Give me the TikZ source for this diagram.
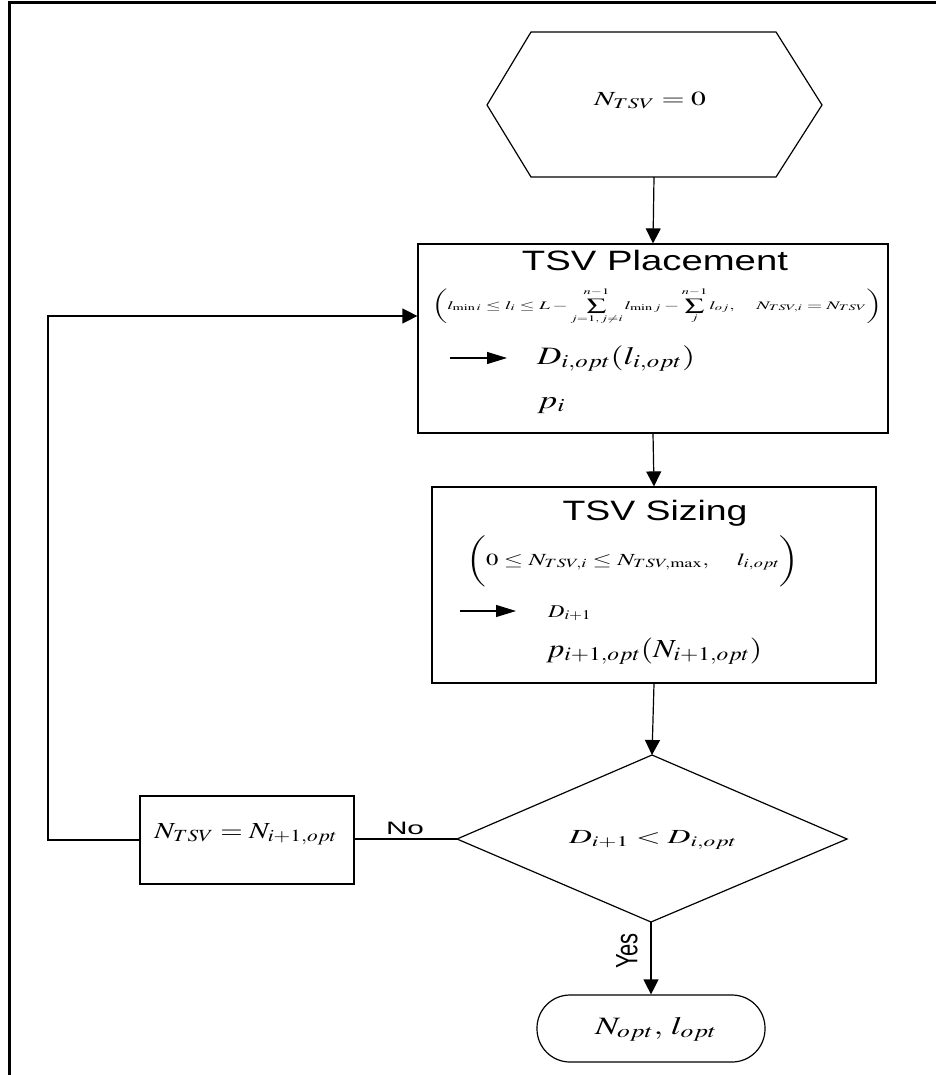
\documentclass[tikz,border=0pt]{standalone}
\usepackage{mathptmx}
\usepackage[no-math]{fontspec}
\setmainfont{Liberation Serif}
\setsansfont{Liberation Sans}
\usepackage{graphicx}
\usetikzlibrary{arrows.meta}
\newcommand{\fitw}[3]{\resizebox{#1}{\height}{\fontsize{#2}{#2}\selectfont #3}}
\newcommand{\uplim}{\raisebox{2pt}{$\scriptstyle n-1$}}
\tikzset{
  box/.style={draw, line width=1.2pt, inner sep=0pt},
  ln/.style={line width=1.2pt},
  arr/.style={line width=1.2pt, -{Triangle[width=15pt,length=15pt]}},
  iarr/.style={line width=1.2pt, -{Triangle[width=12pt,length=20pt]}},
  lbl/.style={inner sep=0pt}
}
\begin{document}
\begin{tikzpicture}[x=1pt,y=-1pt]
\useasboundingbox (0,0) rectangle (936,1075);
\fill[white] (0,0) rectangle (936,1075);
\draw[line width=3pt] (9,1075) -- (9,3) -- (936,3);

% start hexagon
\coordinate (h1) at (531,32);
\coordinate (h2) at (776,32);
\coordinate (h3) at (822,105);
\coordinate (h4) at (776,177);
\coordinate (h5) at (531,177);
\coordinate (h6) at (487,105);
\draw[ln] (h1) -- (h2) -- (h3) -- (h4) -- (h5) -- (h6) -- cycle;
\coordinate (hexb) at (654,177);
\node[lbl] (start) at (650,100) {\fitw{112pt}{20}{$N_{TSV}=0$}};

% TSV placement
\node[box, minimum width=470pt, minimum height=189pt] (place) at (653,338.5) {};
\node[lbl] (ptitle) at (655,260) {\fitw{266pt}{28}{\sffamily TSV Placement}};
\node[lbl] (pcons) at (657,306) {\fitw{450pt}{11.5}{$\displaystyle\left(l_{\min i}\le l_i\le L-\sum_{j=1,\,j\neq i}^{\uplim} l_{\min j}-\sum_{j}^{\uplim} l_{oj},\quad N_{TSV,i}=N_{TSV}\right)$}};
\coordinate (pa1) at (450,358);
\coordinate (pa2) at (507,358);
\draw[iarr] (pa1) -- (pa2);
\node[lbl, anchor=base west] (pD) at (537,364) {\fitw{158pt}{25}{$D_{i,opt}(l_{i,opt})$}};
\node[lbl, anchor=base west] (pp) at (537,408) {\fitw{28pt}{25}{$p_i$}};

% TSV sizing
\node[box, minimum width=444pt, minimum height=196pt] (size) at (654,585) {};
\node[lbl] (stitle) at (655,513) {\fitw{185pt}{28}{\sffamily TSV Sizing}};
\node[lbl] (scons) at (633,561) {\fitw{333pt}{17}{$\Biggl(0\le N_{TSV,i}\le N_{TSV,\max},\quad l_{i,opt}\Biggr)$}};
\coordinate (sa1) at (460,611);
\coordinate (sa2) at (516,611);
\draw[iarr] (sa1) -- (sa2);
\node[lbl, anchor=base west] (sD) at (548,617) {\fitw{43pt}{18}{$D_{i+1}$}};
\node[lbl, anchor=base west] (sp) at (546,657) {\fitw{216pt}{26}{$p_{i+1,opt}(N_{i+1,opt})$}};

% decision diamond
\coordinate (dt) at (652,755);
\coordinate (dr) at (847,839);
\coordinate (db) at (651,922);
\coordinate (dl) at (457,839);
\draw[ln] (dt) -- (dr) -- (db) -- (dl) -- cycle;
\node[lbl, anchor=base] (dtext) at (653,843) {\fitw{168pt}{20}{$D_{i+1}<D_{i,opt}$}};

% update box
\node[box, minimum width=214pt, minimum height=88pt] (upd) at (247,840) {};
\node[lbl, anchor=base] (utext) at (246,838) {\fitw{183pt}{23}{$N_{TSV}=N_{i+1,opt}$}};

% terminal
\node[box, minimum width=228pt, minimum height=67pt, rounded corners=33pt] (stop) at (651,1028.5) {};
\node[lbl, anchor=base] (ttext) at (656,1034) {\fitw{122pt}{25}{$N_{opt},\,l_{opt}$}};

% connectors
\draw[arr] (hexb) -- (place.north);
\draw[arr] (place.south) -- (size.north);
\draw[arr] (size.south) -- (dt);
\draw[arr] (db) -- (db |- stop.north);
\draw[ln] (dl) -- (upd.east |- dl);
\coordinate (lc1) at (48,840);
\coordinate (lc2) at (48,316);
\draw[arr] (upd.west) -- (lc1) -- (lc2) -- (lc2 -| place.west);

% labels
\node[lbl, anchor=base] (no) at (405,834) {\fitw{38pt}{18}{\sffamily No}};
\node[lbl, rotate=90] (yes) at (627,951) {\scalebox{1}[1.4]{\fontsize{22}{22}\selectfont\sffamily Yes}};
\end{tikzpicture}
\end{document}
